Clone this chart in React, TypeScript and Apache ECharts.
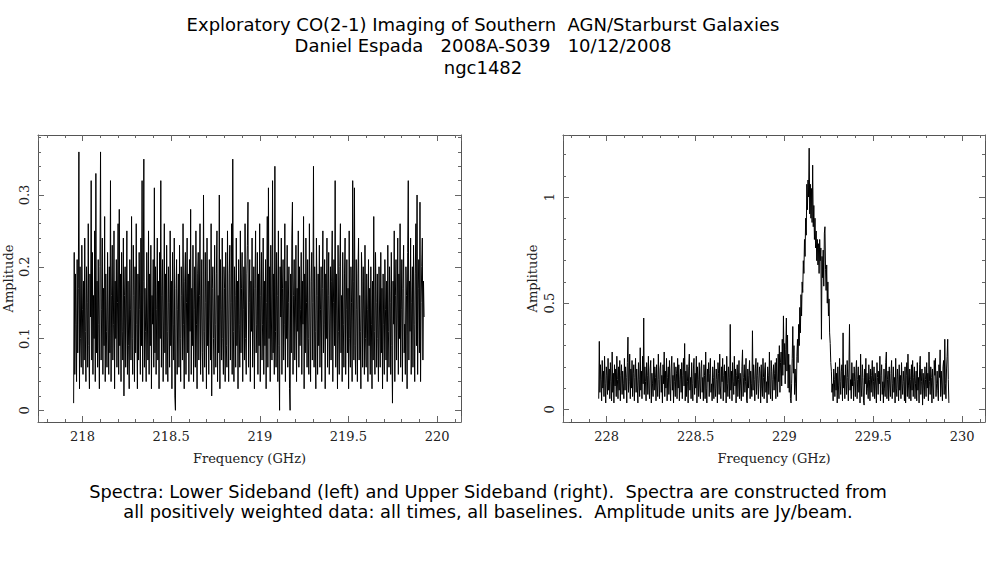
import React, { useEffect, useRef } from "react";
import * as echarts from "echarts";

const TITLE_LINES = [
  "Exploratory CO(2-1) Imaging of Southern  AGN/Starburst Galaxies",
  "Daniel Espada   2008A-S039   10/12/2008",
  "ngc1482",
];
const CAPTION_LINES = [
  "Spectra: Lower Sideband (left) and Upper Sideband (right).  Spectra are constructed from",
  "all positively weighted data: all times, all baselines.  Amplitude units are Jy/beam.",
];
const X_NAME = "Frequency (GHz)";
const Y_NAME = "Amplitude";

// Lower sideband: channel grid (GHz) and amplitudes (Jy/beam)
const LSB_START_GHZ = 217.95;
const LSB_STEP_GHZ = 0.0033;
const LSB_AMPLITUDE = [
  .01,.22,.05,.19,.12,.04,.21,.08,.17,.36,.03,.20,.10,.06,.23,.14,.05,.18,.07,.24,
  .11,.04,.20,.15,.06,.26,.09,.03,.19,.13,.32,.07,.22,.05,.16,.10,.25,.04,.33,.08,
  .18,.06,.21,.12,.03,.20,.36,.07,.14,.24,.05,.17,.09,.27,.04,.19,.11,.06,.22,.13,
  .05,.20,.08,.32,.04,.16,.23,.07,.12,.25,.03,.18,.10,.21,.06,.15,.26,.05,.28,.09,
  .19,.04,.22,.11,.07,.24,.02,.16,.20,.06,.13,.25,.05,.18,.09,.03,.21,.14,.07,.27,
  .10,.05,.23,.16,.04,.20,.08,.26,.12,.03,.19,.07,.22,.14,.05,.24,.09,.32,.04,.18,
  .35,.06,.17,.11,.04,.22,.13,.07,.25,.05,.19,.09,.23,.03,.16,.12,.21,.06,.31,.08,
  .20,.05,.14,.24,.07,.18,.03,.22,.10,.32,.06,.16,.21,.04,.13,.26,.08,.19,.05,.23,
  .11,.04,.20,.15,.06,.25,.09,.18,.03,.22,.12,.07,.24,.02,.00,.17,.21,.05,.14,.19,
  .06,.23,.10,.04,.20,.16,.07,.26,.12,.03,.18,.22,.05,.15,.24,.08,.19,.04,.21,.11,
  .28,.05,.17,.09,.23,.04,.14,.20,.06,.25,.12,.03,.19,.22,.07,.16,.26,.05,.13,.21,
  .08,.04,.30,.11,.06,.22,.15,.03,.24,.09,.18,.05,.21,.13,.07,.26,.02,.17,.20,.10,
  .05,.23,.12,.06,.19,.25,.04,.16,.08,.30,.03,.21,.14,.07,.24,.10,.05,.20,.17,.04,
  .22,.09,.06,.25,.13,.04,.19,.23,.07,.15,.26,.05,.35,.11,.04,.20,.16,.06,.24,.09,
  .18,.03,.21,.12,.06,.25,.08,.17,.22,.04,.14,.20,.07,.26,.10,.05,.19,.23,.29,.06,
  .15,.21,.04,.18,.11,.24,.06,.13,.20,.03,.17,.25,.08,.12,.22,.05,.19,.09,.26,.04,
  .16,.22,.07,.12,.24,.05,.18,.09,.21,.03,.15,.27,.06,.31,.10,.20,.04,.23,.13,.07,
  .32,.08,.19,.05,.34,.11,.06,.22,.16,.04,.25,.09,.00,.20,.13,.24,.05,.17,.21,.07,
  .12,.26,.04,.18,.10,.23,.06,.15,.20,.03,.00,.19,.08,.24,.29,.05,.16,.21,.07,.13,
  .23,.04,.17,.11,.25,.06,.20,.09,.14,.22,.05,.18,.12,.27,.03,.19,.08,.24,.15,.06,
  .21,.10,.05,.26,.13,.04,.18,.22,.07,.15,.34,.06,.20,.11,.03,.24,.16,.05,.19,.09,
  .23,.06,.14,.20,.04,.17,.25,.08,.12,.21,.03,.19,.10,.24,.06,.16,.22,.05,.13,.20,
  .07,.18,.25,.04,.15,.21,.09,.32,.06,.19,.13,.03,.23,.11,.05,.20,.26,.08,.16,.04,
  .22,.12,.06,.19,.24,.05,.14,.21,.08,.17,.03,.25,.10,.06,.20,.15,.04,.32,.18,.07,
  .31,.09,.05,.21,.14,.04,.19,.24,.07,.16,.11,.03,.22,.18,.06,.20,.13,.05,.23,.10,
  .06,.19,.14,.04,.21,.09,.17,.05,.20,.12,.03,.18,.07,.27,.11,.05,.22,.15,.06,.19,
  .10,.04,.20,.13,.06,.22,.08,.17,.03,.19,.12,.05,.21,.14,.07,.18,.04,.23,.11,.06,
  .20,.15,.05,.22,.09,.01,.18,.12,.25,.04,.16,.21,.07,.13,.24,.05,.19,.10,.26,.06,
  .14,.21,.04,.17,.23,.08,.12,.05,.20,.16,.03,.22,.32,.07,.18,.11,.24,.05,.15,.20,
  .06,.23,.12,.04,.19,.26,.09,.30,.05,.17,.21,.08,.29,.04,.15,.20,.24,.07,.18,.13,
];

// Upper sideband: channel grid (GHz) and amplitudes (Jy/beam)
const USB_START_GHZ = 227.955;
const USB_STEP_GHZ = 0.00329;
const USB_AMPLITUDE = [
  .05,.32,.08,.21,.14,.04,.23,.10,.18,.06,.25,.12,.03,.20,.16,.07,.24,.09,.19,.05,
  .22,.13,.04,.27,.08,.17,.03,.21,.11,.19,.06,.25,.14,.05,.20,.09,.23,.04,.16,.21,
  .07,.18,.12,.05,.24,.09,.20,.15,.03,.22,.34,.08,.13,.26,.05,.19,.10,.23,.06,.17,
  .21,.04,.15,.24,.08,.19,.11,.03,.22,.14,.06,.29,.09,.18,.05,.25,.12,.43,.07,.20,
  .13,.04,.22,.16,.07,.25,.10,.05,.19,.23,.03,.17,.12,.06,.24,.09,.20,.15,.04,.21,
  .11,.06,.26,.14,.05,.19,.22,.08,.16,.03,.21,.12,.27,.06,.18,.10,.24,.04,.15,.20,
  .07,.23,.12,.04,.19,.25,.09,.16,.03,.22,.13,.06,.20,.17,.05,.24,.10,.21,.04,.14,
  .19,.08,.22,.05,.16,.24,.11,.31,.04,.18,.06,.21,.13,.03,.20,.26,.09,.15,.05,.22,
  .12,.04,.19,.24,.07,.17,.10,.25,.03,.20,.14,.06,.22,.11,.05,.19,.23,.08,.15,.04,
  .21,.16,.05,.27,.10,.03,.19,.13,.22,.06,.17,.24,.08,.12,.04,.20,.15,.05,.23,.10,
  .06,.19,.14,.03,.22,.17,.07,.26,.11,.05,.20,.13,.24,.04,.16,.21,.08,.18,.03,.25,
  .12,.06,.20,.15,.05,.40,.09,.18,.04,.22,.13,.07,.25,.11,.19,.03,.16,.21,.06,.14,
  .23,.05,.17,.11,.04,.20,.28,.06,.15,.21,.08,.13,.24,.04,.03,.19,.10,.16,.23,.05,
  .18,.12,.06,.37,.09,.21,.14,.04,.19,.24,.07,.16,.22,.05,.12,.20,.17,.03,.21,.10,
  .06,.24,.15,.05,.19,.22,.08,.13,.03,.20,.16,.07,.27,.10,.05,.23,.18,.04,.14,.21,
  .09,.17,.22,.05,.24,.12,.06,.26,.13,.30,.08,.22,.27,.11,.33,.16,.44,.21,.31,.12,
  .28,.43,.18,.35,.10,.26,.08,.21,.05,.03,.12,.24,.39,.17,.30,.07,.19,.12,.04,.25,
  .33,.22,.40,.30,.48,.36,.54,.44,.60,.55,.70,.64,.80,.72,.90,.82,1.06,.94,1.08,1.00,
  1.23,.92,1.06,.90,1.04,.88,1.15,.86,.96,.80,.90,.76,.84,.70,.80,.68,.78,.64,.80,.70,
  .76,.33,.72,.62,.75,.58,.83,.86,.66,.56,.68,.50,.60,.44,.52,.36,.31,.22,.18,.08,
  .12,.04,.19,.14,.06,.22,.09,.17,.03,.20,.11,.05,.24,.13,.07,.18,.21,.04,.36,.10,
  .16,.05,.21,.12,.07,.23,.15,.04,.19,.40,.09,.14,.05,.22,.11,.17,.04,.20,.13,.06,
  .18,.23,.05,.14,.20,.08,.16,.03,.26,.11,.06,.21,.15,.04,.02,.19,.12,.24,.07,.17,
  .10,.05,.21,.14,.04,.19,.08,.16,.23,.06,.13,.20,.05,.17,.11,.03,.22,.15,.07,.18,
  .12,.25,.04,.16,.21,.07,.13,.03,.19,.10,.06,.22,.27,.05,.14,.18,.04,.20,.11,.06,
  .17,.23,.05,.12,.20,.08,.15,.03,.24,.10,.06,.19,.14,.04,.21,.09,.16,.05,.22,.12,
  .07,.18,.13,.04,.20,.03,.16,.22,.06,.26,.11,.05,.19,.14,.04,.21,.09,.23,.06,.15,
  .20,.05,.12,.18,.04,.22,.09,.15,.03,.21,.25,.07,.13,.19,.02,.17,.11,.05,.20,.14,
  .06,.22,.10,.17,.04,.27,.13,.07,.20,.15,.03,.19,.11,.05,.23,.16,.24,.06,.12,.18,
  .09,.04,.21,.15,.28,.06,.18,.11,.04,.20,.23,.07,.33,.12,.05,.19,.25,.33,.14,.03,
];

// Axis extents (GHz, Jy/beam)
const LSB_X_RANGE = [217.749, 220.135];
const LSB_Y_RANGE = [-0.0163, 0.3836];
const USB_X_RANGE = [227.754, 230.129];
const USB_Y_RANGE = [-0.0597, 1.292];

const SERIF = '"DejaVu Serif", serif';
const SANS = '"DejaVu Sans", sans-serif';
const AXIS_COLOR = "#555";
const TICK_COLOR = "#666";

function toPairs(start: number, step: number, values: number[]) {
  return values.map((v, i) => [start + i * step, v]);
}

function makeAxis(
  dim: "x" | "y",
  gridIndex: number,
  range: number[],
  step: number,
  position: string,
  primary: boolean,
  nameGap: number
) {
  const axis: any = {
    type: "value",
    gridIndex,
    position,
    min: range[0],
    max: range[1],
    splitNumber: dim === "x" ? 5 : step === 0.5 ? 3 : 5,
    minInterval: step,
    maxInterval: step,
    scale: true,
    splitLine: { show: false },
    axisLine: { show: true, onZero: false, lineStyle: { color: AXIS_COLOR, width: 1 } },
    axisTick: { show: true, inside: true, length: 6, lineStyle: { color: TICK_COLOR, width: 1 } },
    minorTick: { show: true, splitNumber: 5, length: 3, lineStyle: { color: TICK_COLOR, width: 1 } },
    axisLabel: {
      show: primary,
      showMinLabel: false,
      showMaxLabel: false,
      fontFamily: SERIF,
      fontSize: 13,
      color: "#222",
      margin: dim === "x" ? 8 : 7,
      rotate: dim === "y" ? 90 : 0,
      formatter: (v: number) => String(v),
    },
  };
  if (primary) {
    axis.name = dim === "x" ? X_NAME : Y_NAME;
    axis.nameLocation = "middle";
    axis.nameGap = nameGap;
    axis.nameTextStyle = { fontFamily: SERIF, fontSize: 13, color: "#222" };
  }
  return axis;
}

export default function App() {
  const ref = useRef<HTMLDivElement>(null);
  useEffect(() => {
    if (!ref.current) return;
    const chart = echarts.init(ref.current, undefined, { renderer: "svg" });
    const titleGraphics = TITLE_LINES.map((t, i) => ({
      type: "text",
      x: 483,
      y: 24 + i * 21.5,
      style: { text: t, font: `18px ${SANS}`, fill: "#000", align: "center", verticalAlign: "middle" },
    }));
    const captionGraphics = CAPTION_LINES.map((t, i) => ({
      type: "text",
      x: 488,
      y: 491 + i * 20,
      style: { text: t, font: `17.8px ${SANS}`, fill: "#000", align: "center", verticalAlign: "middle" },
    }));
    chart.setOption({
      animation: false,
      backgroundColor: "#fff",
      grid: [
        { left: 38, top: 135, width: 423, height: 287, containLabel: false },
        { left: 563, top: 135, width: 422, height: 287, containLabel: false },
      ],
      xAxis: [
        makeAxis("x", 0, LSB_X_RANGE, 0.5, "bottom", true, 30),
        makeAxis("x", 0, LSB_X_RANGE, 0.5, "top", false, 0),
        makeAxis("x", 1, USB_X_RANGE, 0.5, "bottom", true, 30),
        makeAxis("x", 1, USB_X_RANGE, 0.5, "top", false, 0),
      ],
      yAxis: [
        makeAxis("y", 0, LSB_Y_RANGE, 0.1, "left", true, 23),
        makeAxis("y", 0, LSB_Y_RANGE, 0.1, "right", false, 0),
        makeAxis("y", 1, USB_Y_RANGE, 0.5, "left", true, 24),
        makeAxis("y", 1, USB_Y_RANGE, 0.5, "right", false, 0),
      ],
      series: [
        {
          type: "line",
          xAxisIndex: 0,
          yAxisIndex: 0,
          data: toPairs(LSB_START_GHZ, LSB_STEP_GHZ, LSB_AMPLITUDE),
          showSymbol: false,
          symbol: "none",
          silent: true,
          lineStyle: { color: "#000", width: 1 },
        },
        {
          type: "line",
          xAxisIndex: 2,
          yAxisIndex: 2,
          data: toPairs(USB_START_GHZ, USB_STEP_GHZ, USB_AMPLITUDE),
          showSymbol: false,
          symbol: "none",
          silent: true,
          lineStyle: { color: "#000", width: 1 },
        },
      ],
      graphic: [...titleGraphics, ...captionGraphics],
    });
    return () => chart.dispose();
  }, []);
  return (
    <div
      ref={ref}
      style={{ position: "absolute", left: 0, top: 0, width: 987, height: 567, background: "#fff" }}
    />
  );
}
